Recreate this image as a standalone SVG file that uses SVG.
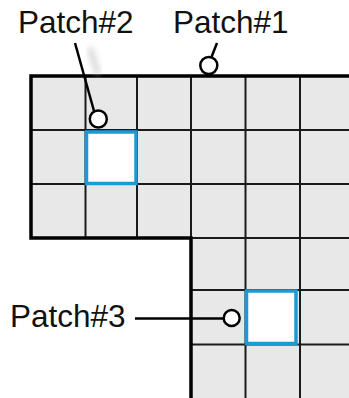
<svg xmlns="http://www.w3.org/2000/svg" width="349" height="398" viewBox="0 0 349 398">
<style>
.lbl{font-family:"Liberation Sans",Arial,Helvetica,sans-serif;font-size:31.5px;fill:#111}
.grid{stroke:#1a1a1a;stroke-width:2;fill:none}
.thick{stroke:#000;stroke-width:3.5;fill:none;stroke-linecap:square}
.patch{fill:#fff;stroke:#1c9ad6;stroke-width:3.5}
.lead{stroke:#000;stroke-width:2.5;fill:none}
.ring{fill:#fff;stroke:#000;stroke-width:2.5}
</style>
<defs>
<filter id="blur" x="-50%" y="-50%" width="200%" height="200%"><feGaussianBlur stdDeviation="3"/></filter>
</defs>
<rect width="349" height="398" fill="#fff"/>
<g id="region">
<path d="M31 76 H349 V398 H191 V238 H31 Z" fill="#e8e8e8"/>
<g class="grid">
<line x1="85.5" y1="76" x2="85.5" y2="238"/>
<line x1="137" y1="76" x2="137" y2="238"/>
<line x1="191" y1="76" x2="191" y2="238"/>
<line x1="245.5" y1="76" x2="245.5" y2="398"/>
<line x1="300" y1="76" x2="300" y2="398"/>
<line x1="31" y1="130" x2="349" y2="130"/>
<line x1="31" y1="184" x2="349" y2="184"/>
<line x1="191" y1="238" x2="349" y2="238"/>
<line x1="191" y1="290" x2="349" y2="290"/>
<line x1="191" y1="344.5" x2="349" y2="344.5"/>
</g>
<path class="thick" d="M349 76 H31 V238 H191 V400"/>
<line x1="90" y1="48" x2="98" y2="74" stroke="#bbb" stroke-width="5" filter="url(#blur)" opacity="0.7"/>
</g>
<g id="patch2">
<rect class="patch" x="86.5" y="132" width="49.5" height="51.5"/>
</g>
<g id="patch3">
<rect class="patch" x="246.5" y="291" width="49.5" height="52.5"/>
</g>
<g id="connectors">
<line class="lead" x1="217" y1="43" x2="211.5" y2="57"/>
<line class="lead" x1="75" y1="43" x2="94" y2="111"/>
<line class="lead" x1="135" y1="318.5" x2="223" y2="318.5"/>
</g>
<g id="label-patch1">
<circle class="ring" cx="208.8" cy="65.5" r="8.5"/>
<text class="lbl" x="173" y="33">Patch#1</text>
</g>
<g id="label-patch2">
<circle class="ring" cx="98.3" cy="119" r="8.5"/>
<text class="lbl" x="18" y="33">Patch#2</text>
</g>
<g id="label-patch3">
<circle class="ring" cx="231.7" cy="318" r="8"/>
<text class="lbl" x="10" y="327">Patch#3</text>
</g>
</svg>
